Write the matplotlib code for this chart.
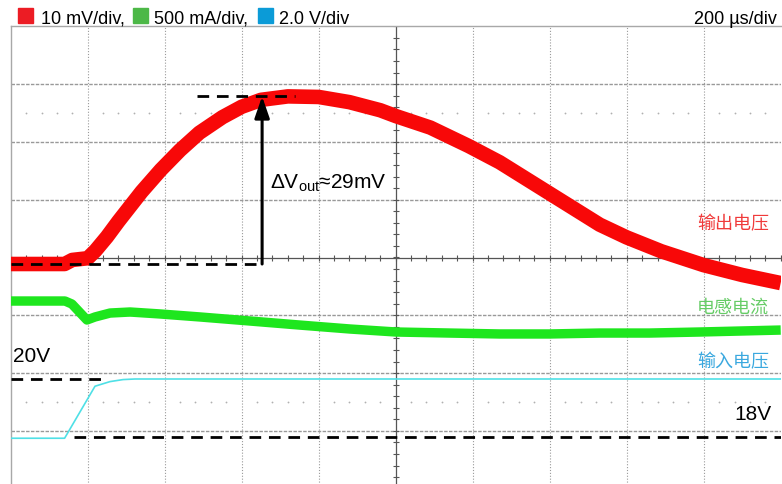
import matplotlib
matplotlib.use("Agg")
import numpy as np
import matplotlib.pyplot as plt
from matplotlib.patches import Rectangle

plt.rcParams['font.family'] = ['Liberation Sans', 'Noto Sans CJK SC', 'DejaVu Sans']
plt.rcParams['mathtext.fontset'] = 'custom'
plt.rcParams['mathtext.rm'] = 'Liberation Sans'
plt.rcParams['mathtext.it'] = 'Liberation Sans:italic'

# ---- labels ---------------------------------------------------------------
channel_labels = ["10 mV/div,", "500 mA/div,", "2.0 V/div"]
timebase_label = "200 µs/div"
trace_names = ["输出电压", "电感电流", "输入电压"]

# ---- output voltage deviation (mV) vs time (µs) ---------------------------
t_vout = [0, 80, 140, 160, 200, 220, 250, 280, 340, 390, 440, 490, 550, 600,
          650, 720, 800, 880, 960, 1000, 1090, 1190, 1270, 1400, 1530, 1600,
          1690, 1800, 1900, 2000]
vout_mv = [0.0, 0.0, 0.0, 0.7, 1.0, 2.3, 4.7, 7.4, 12.5, 16.3, 19.7, 22.7,
           25.4, 27.2, 28.4, 29.0, 28.9, 28.0, 26.6, 25.6, 23.6, 20.4, 17.6,
           12.2, 6.8, 4.6, 2.2, -0.2, -1.9, -3.3]

# ---- inductor current change (mA) vs time (µs) ----------------------------
t_il = [0, 141, 159, 198, 219, 258, 310, 388, 492, 622, 751, 881, 1001,
        1140, 1270, 1400, 1530, 1660, 1790, 2000]
il_ma = [0, 0, -26, -164, -138, -104, -95, -112, -138, -173, -208, -242,
         -268, -277, -285, -285, -277, -277, -268, -251]

# ---- input voltage (V) vs time (µs) ---------------------------------------
t_vin = [0, 140, 219, 258, 292, 323, 2000]
vin_v = [17.95, 17.95, 19.75, 19.91, 19.98, 20.0, 20.0]

# annotated quantities
delta_vout_mv = 29.0
t_delta = 653
vin_low, vin_high = 18.0, 20.0

# ---- channel scaling: value -> screen divisions ---------------------------
T_PER_DIV = 200.0
def red_div(v):   return np.asarray(v) / 10.0 - 0.1125
def green_div(v): return np.asarray(v) / 500.0 - 0.753
def cyan_div(v):  return (np.asarray(v) - 20.0) / 2.0 - 2.102

W, H = 782, 485
fig = plt.figure(figsize=(W / 100, H / 100), dpi=100)
fig.patch.set_facecolor('white')
ax = fig.add_axes([10.7 / W, (H - 489.7) / H, 770 / W, 462.4 / H])
ax.set_xlim(0, 10 * T_PER_DIV)
ax.set_ylim(-4, 4)
ax.set_xticks([]); ax.set_yticks([])
for s in ('right', 'bottom'):
    ax.spines[s].set_visible(False)
for s in ('top', 'left'):
    ax.spines[s].set_color('#a8a8a8')
    ax.spines[s].set_linewidth(1.0)

# graticule
for i in range(1, 10):
    if i == 5:
        continue
    ax.axvline(i * T_PER_DIV, color='#9a9a9a', lw=0.8, ls=(0, (1, 1.6)), zorder=1)
for j in (-3, -2, -1, 1, 2, 3):
    ax.axhline(j, color='#999999', lw=1.0, ls=(0, (2.5, 1)), zorder=1)
ax.axhline(0, color='#555555', lw=0.9, zorder=1.5)
ax.axvline(5 * T_PER_DIV, color='#555555', lw=0.9, zorder=1.5)

fine_x = np.arange(0, 10 * T_PER_DIV + 1, T_PER_DIV / 5)
ax.plot(fine_x, np.zeros_like(fine_x), ls='none', marker='|', ms=4.5,
        mew=0.8, color='#555555', zorder=1.5)
fine_y = np.arange(-4, 4.01, 0.2)
ax.plot(np.full_like(fine_y, 5 * T_PER_DIV), fine_y, ls='none', marker='_',
        ms=4.5, mew=0.8, color='#555555', zorder=1.5)
dot_x = np.array([x for x in fine_x if abs(x / T_PER_DIV - round(x / T_PER_DIV)) > 1e-6])
for yy in (2.5, -2.5):
    ax.plot(dot_x, np.full_like(dot_x, yy), ls='none', marker='o', ms=1.3,
            mew=0, color='#b0b0b0', zorder=1.2)

# traces
ax.plot(t_il, green_div(il_ma), color='#1ee61e', lw=6.8,
        solid_capstyle='butt', solid_joinstyle='round', zorder=3)
ax.plot(t_vout, red_div(vout_mv), color='#f80808', lw=10.5,
        solid_capstyle='butt', solid_joinstyle='round', zorder=3)
ax.plot(t_vin, cyan_div(vin_v), color='#4fe0e6', lw=1.2, zorder=3)

# measurement markers
dash = dict(color='black', lw=2.0, dashes=(4.2, 2.8), zorder=5)
ax.plot([0, t_delta], red_div([0, 0]), **dash)
ax.plot([484, 739], red_div([delta_vout_mv] * 2), **dash)
ax.plot([0, 253], cyan_div([vin_high] * 2), **dash)
ax.plot([164, 2000], cyan_div([vin_low] * 2), **dash)
ax.annotate('', xy=(t_delta, red_div(delta_vout_mv)), xytext=(t_delta, red_div(0)),
            arrowprops=dict(arrowstyle='-|>,head_length=1.3,head_width=0.45',
                            mutation_scale=10, lw=2.2, color='black',
                            shrinkA=0, shrinkB=0), zorder=5)

ax.text(673, red_div(14.2), r'ΔV$_{\mathrm{out}}$≈%dmV' % round(delta_vout_mv),
        fontsize=15, va='center', ha='left', color='black', zorder=6)
ax.text(5, cyan_div(vin_high) + 0.4, '%dV' % vin_high, fontsize=15,
        va='center', ha='left', zorder=6)
ax.text(1975, cyan_div(vin_low) + 0.4, '%dV' % vin_low, fontsize=15,
        va='center', ha='right', zorder=6)

# trace names on the right
name_colors = ['#f03a3a', '#66cc66', '#3aa8df']
name_y = [224, 308, 362]
for name, c, yp in zip(trace_names, name_colors, name_y):
    fig.text(697 / W, (H - yp) / H, name, color=c, fontsize=13,
             family=['Noto Sans CJK SC'], va='center', ha='left')

# header: channel scales and timebase
sq_colors = ['#ec1c24', '#4cb847', '#0b9bd7']
sq_x = [18.3, 133.3, 257.7]
txt_x = [40.7, 154.0, 279.0]
for c, sx, tx, lab in zip(sq_colors, sq_x, txt_x, channel_labels):
    fig.patches.append(Rectangle((sx / W, (H - 24.3) / H), 15 / W, 15 / H,
                                 transform=fig.transFigure, color=c))
    fig.text(tx / W, (H - 24.0) / H, lab, fontsize=13, va='baseline', ha='left')
fig.text(777 / W, (H - 24.0) / H, timebase_label, fontsize=13,
         va='baseline', ha='right')

fig.savefig('out.png', dpi=100)
